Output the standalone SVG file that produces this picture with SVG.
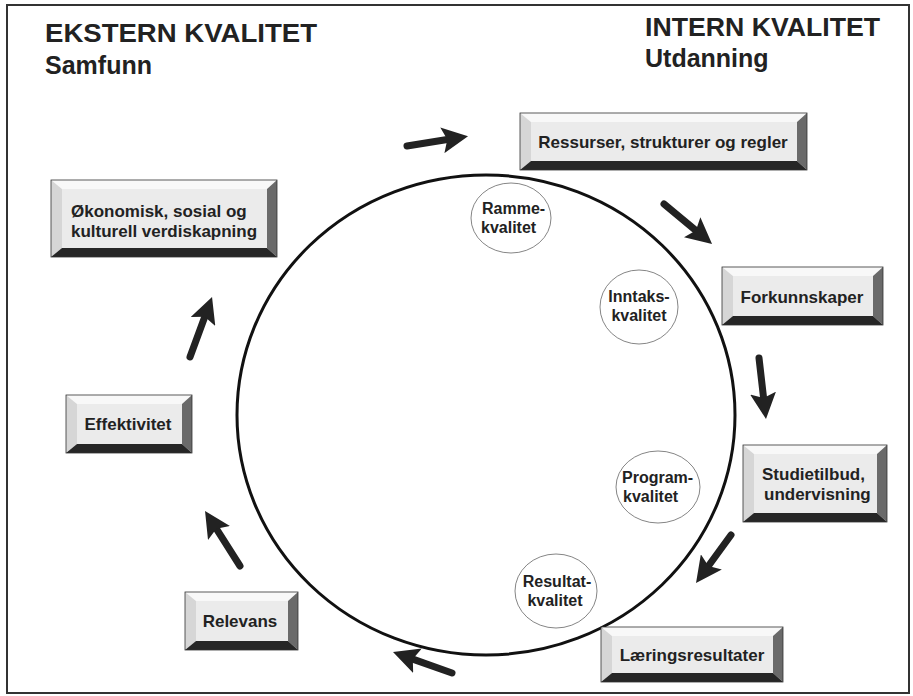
<svg xmlns="http://www.w3.org/2000/svg" width="913" height="696" viewBox="0 0 913 696">
<defs>
<style>
.frame{fill:#fff;stroke:#333;stroke-width:2}
.face{fill:#ebebeb}
.bt{fill:#f8f8f8}
.bl{fill:#d6d6d6}
.br{fill:#6a6a6a}
.bb{fill:#262626}
.out{fill:none;stroke:#333;stroke-width:0.8}
.bx{font-family:"Liberation Sans",Arial,sans-serif;font-weight:bold;font-size:17px;fill:#222;text-anchor:middle}
.bxl{font-family:"Liberation Sans",Arial,sans-serif;font-weight:bold;font-size:17px;fill:#222}
.el{fill:#fff;stroke:#666;stroke-width:0.8}
.et{font-family:"Liberation Sans",Arial,sans-serif;font-weight:bold;font-size:16px;fill:#222;text-anchor:middle}
.etl{font-family:"Liberation Sans",Arial,sans-serif;font-weight:bold;font-size:16px;fill:#222}
.hd{font-family:"Liberation Sans",Arial,sans-serif;font-weight:bold;font-size:25px;fill:#222}
.arr{stroke:#222;stroke-width:7;stroke-linecap:round;fill:none;marker-end:url(#ah)}
</style>
<marker id="ah" markerUnits="userSpaceOnUse" markerWidth="26" markerHeight="26" viewBox="0 0 26 26" refX="5" refY="13" orient="auto">
<path d="M0,0 L26,13 L0,26 L5,13 z" fill="#222"/>
</marker>
</defs>
<rect class="frame" x="7" y="5" width="902" height="688"/>
<g id="headings">
<text class="hd" x="45" y="42" textLength="272" lengthAdjust="spacingAndGlyphs">EKSTERN KVALITET</text>
<text class="hd" x="45" y="74">Samfunn</text>
<text class="hd" x="645" y="36" textLength="235" lengthAdjust="spacingAndGlyphs">INTERN KVALITET</text>
<text class="hd" x="645" y="67">Utdanning</text>
</g>
<ellipse id="cycle" cx="486" cy="415" rx="249" ry="240" fill="none" stroke="#111" stroke-width="3"/>
<g id="n-ressurser">
<rect class="face" x="531" y="122" width="266" height="39"/>
<polygon class="bt" points="520,113 807,113 797,122 531,122"/>
<polygon class="bl" points="520,113 531,122 531,161 520,170"/>
<polygon class="br" points="807,113 807,170 797,161 797,122"/>
<polygon class="bb" points="520,170 531,161 797,161 807,170"/>
<rect class="out" x="520" y="113" width="287" height="57"/>
<text class="bx" x="663" y="148">Ressurser, strukturer og regler</text>
</g>
<g id="n-forkunnskaper">
<rect class="face" x="733" y="276" width="140" height="40"/>
<polygon class="bt" points="722,267 883,267 873,276 733,276"/>
<polygon class="bl" points="722,267 733,276 733,316 722,325"/>
<polygon class="br" points="883,267 883,325 873,316 873,276"/>
<polygon class="bb" points="722,325 733,316 873,316 883,325"/>
<rect class="out" x="722" y="267" width="161" height="58"/>
<text class="bx" x="802" y="303">Forkunnskaper</text>
</g>
<g id="n-studietilbud">
<rect class="face" x="754" y="454" width="123" height="59"/>
<polygon class="bt" points="743,445 887,445 877,454 754,454"/>
<polygon class="bl" points="743,445 754,454 754,513 743,522"/>
<polygon class="br" points="887,445 887,522 877,513 877,454"/>
<polygon class="bb" points="743,522 754,513 877,513 887,522"/>
<rect class="out" x="743" y="445" width="144" height="77"/>
<text class="bxl" x="762" y="480">Studietilbud,</text>
<text class="bxl" x="764" y="500">undervisning</text>
</g>
<g id="n-laering">
<rect class="face" x="612" y="636" width="161" height="37"/>
<polygon class="bt" points="601,627 783,627 773,636 612,636"/>
<polygon class="bl" points="601,627 612,636 612,673 601,682"/>
<polygon class="br" points="783,627 783,682 773,673 773,636"/>
<polygon class="bb" points="601,682 612,673 773,673 783,682"/>
<rect class="out" x="601" y="627" width="182" height="55"/>
<text class="bx" x="692" y="661">Læringsresultater</text>
</g>
<g id="n-relevans">
<rect class="face" x="196" y="601" width="92" height="40"/>
<polygon class="bt" points="185,592 298,592 288,601 196,601"/>
<polygon class="bl" points="185,592 196,601 196,641 185,650"/>
<polygon class="br" points="298,592 298,650 288,641 288,601"/>
<polygon class="bb" points="185,650 196,641 288,641 298,650"/>
<rect class="out" x="185" y="592" width="113" height="58"/>
<text class="bx" x="240" y="627">Relevans</text>
</g>
<g id="n-effektivitet">
<rect class="face" x="77" y="404" width="105" height="40"/>
<polygon class="bt" points="66,395 192,395 182,404 77,404"/>
<polygon class="bl" points="66,395 77,404 77,444 66,453"/>
<polygon class="br" points="192,395 192,453 182,444 182,404"/>
<polygon class="bb" points="66,453 77,444 182,444 192,453"/>
<rect class="out" x="66" y="395" width="126" height="58"/>
<text class="bx" x="128" y="430">Effektivitet</text>
</g>
<g id="n-okonomisk">
<rect class="face" x="62" y="189" width="205" height="59"/>
<polygon class="bt" points="51,180 277,180 267,189 62,189"/>
<polygon class="bl" points="51,180 62,189 62,248 51,257"/>
<polygon class="br" points="277,180 277,257 267,248 267,189"/>
<polygon class="bb" points="51,257 62,248 267,248 277,257"/>
<rect class="out" x="51" y="180" width="226" height="77"/>
<text class="bxl" x="71" y="217">Økonomisk, sosial og</text>
<text class="bxl" x="71" y="237">kulturell verdiskapning</text>
</g>
<g id="l-ramme">
<ellipse class="el" cx="511" cy="218" rx="40" ry="35"/>
<text class="etl" x="482" y="214">Ramme-</text>
<text class="etl" x="481" y="233">kvalitet</text>
</g>
<g id="l-inntaks">
<ellipse class="el" cx="639" cy="307" rx="39" ry="37"/>
<text class="et" x="639" y="302">Inntaks-</text>
<text class="et" x="639" y="321">kvalitet</text>
</g>
<g id="l-program">
<ellipse class="el" cx="658" cy="487" rx="42" ry="36"/>
<text class="etl" x="622" y="483">Program-</text>
<text class="etl" x="623" y="502">kvalitet</text>
</g>
<g id="l-resultat">
<ellipse class="el" cx="556" cy="591" rx="41" ry="37"/>
<text class="et" x="557" y="587">Resultat-</text>
<text class="et" x="555" y="606">kvalitet</text>
</g>
<g id="connectors">
<line class="arr" x1="407" y1="146" x2="447.3" y2="139.5"/>
<line class="arr" x1="664" y1="204" x2="695.9" y2="230.5"/>
<line class="arr" x1="759" y1="358" x2="763.6" y2="398.1"/>
<line class="arr" x1="731" y1="535" x2="708.4" y2="566"/>
<line class="arr" x1="452" y1="673" x2="412.8" y2="659.1"/>
<line class="arr" x1="240" y1="566" x2="216.3" y2="528.7"/>
<line class="arr" x1="190" y1="357" x2="204.8" y2="316.7"/>
</g>
</svg>
